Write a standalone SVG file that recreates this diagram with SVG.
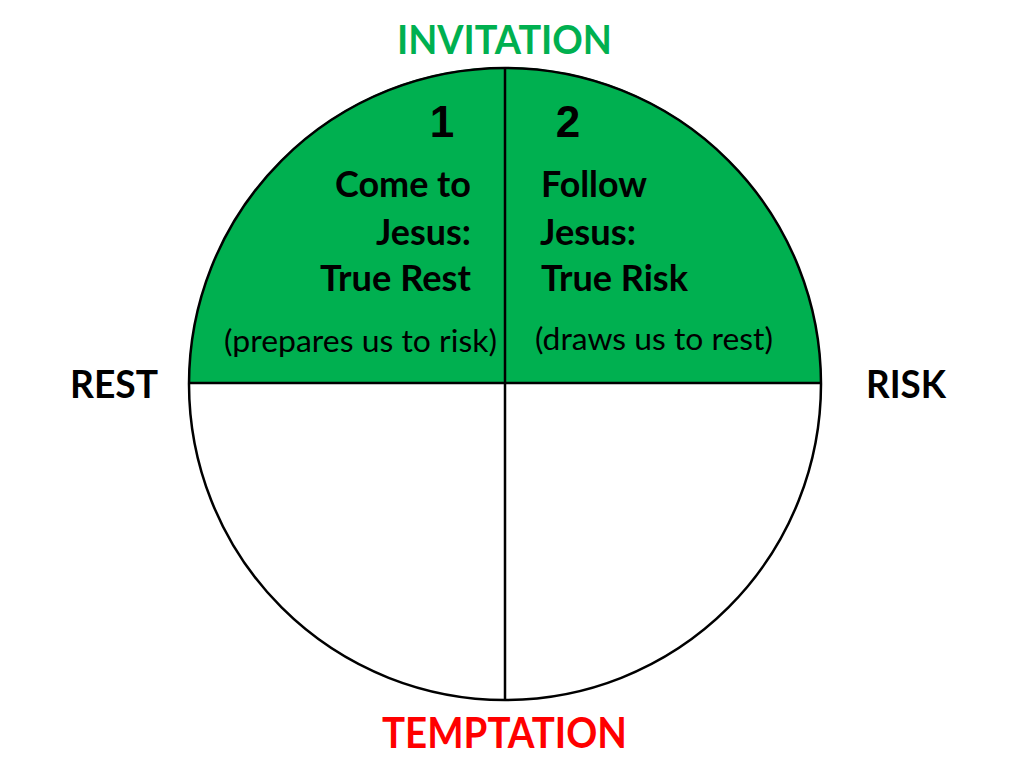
<svg xmlns="http://www.w3.org/2000/svg" width="1024" height="768" viewBox="0 0 1024 768">
<style>
.b{font-family:Lato,"Open Sans","Liberation Sans",sans-serif;font-weight:bold;fill:#000}
.r{font-family:Lato,"Open Sans","Liberation Sans",sans-serif;font-weight:normal;fill:#000}
.n{font-family:"Liberation Sans",Arial,sans-serif;font-weight:bold;fill:#000}
.ln{stroke:#000;stroke-width:2.5;fill:none}
</style>
<rect width="1024" height="768" fill="#fff"/>
<g id="circle">
<path d="M189,383 A316,316 0 0 1 821,383 Z" fill="#00B050"/>
<circle cx="505" cy="384" r="316" class="ln"/>
</g>
<g id="connectors">
<line x1="505" y1="68" x2="505" y2="700" class="ln"/>
<line x1="189" y1="383" x2="821" y2="383" class="ln"/>
</g>
<g id="invitation"><text x="397" y="54" class="b" font-size="40" fill="#00B050" style="fill:#00B050" textLength="215" lengthAdjust="spacingAndGlyphs">INVITATION</text></g>
<g id="temptation"><text x="382" y="748" class="b" font-size="42" style="fill:#FF0000" textLength="245" lengthAdjust="spacingAndGlyphs">TEMPTATION</text></g>
<g id="rest"><text x="70" y="398" class="b" font-size="38" textLength="88" lengthAdjust="spacingAndGlyphs">REST</text></g>
<g id="risk"><text x="866" y="398" class="b" font-size="38" textLength="80" lengthAdjust="spacingAndGlyphs">RISK</text></g>
<g id="q1">
<text x="442" y="137" class="n" font-size="44" text-anchor="middle">1</text>
<text x="335" y="197" class="b" font-size="36" textLength="136" lengthAdjust="spacingAndGlyphs">Come to</text>
<text x="376" y="245" class="b" font-size="36" textLength="95" lengthAdjust="spacingAndGlyphs">Jesus:</text>
<text x="320" y="291" class="b" font-size="36" textLength="151" lengthAdjust="spacingAndGlyphs">True Rest</text>
<text x="224" y="352" class="r" font-size="30" textLength="273" lengthAdjust="spacingAndGlyphs">(prepares us to risk)</text>
</g>
<g id="q2">
<text x="568" y="137" class="n" font-size="44" text-anchor="middle">2</text>
<text x="541" y="197" class="b" font-size="36" textLength="106" lengthAdjust="spacingAndGlyphs">Follow</text>
<text x="540" y="245" class="b" font-size="36" textLength="96" lengthAdjust="spacingAndGlyphs">Jesus:</text>
<text x="541" y="291" class="b" font-size="36" textLength="147" lengthAdjust="spacingAndGlyphs">True Risk</text>
<text x="535" y="350" class="r" font-size="30" textLength="238" lengthAdjust="spacingAndGlyphs">(draws us to rest)</text>
</g>
</svg>
